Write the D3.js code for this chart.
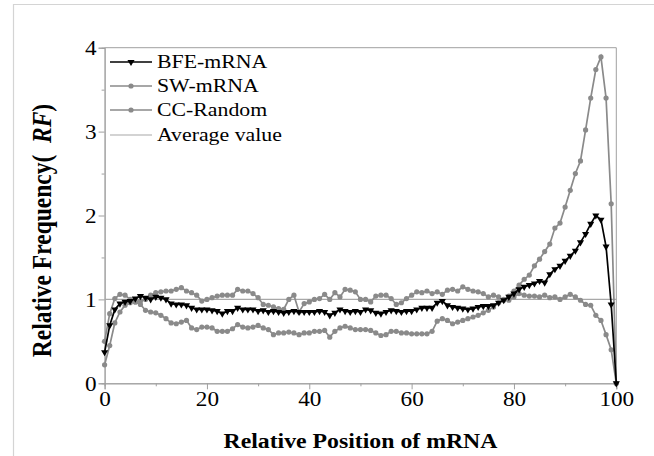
<!DOCTYPE html>
<html><head><meta charset="utf-8">
<script src="https://cdn.jsdelivr.net/npm/d3@7"></script>
<style>body{margin:0;background:#fff}svg{display:block}</style>
</head><body>
<svg id="c" width="654" height="456"></svg>
<script>
const positions = d3.range(0, 101);
const bfe = [0.37,0.69,0.88,0.95,0.97,0.98,1.01,1.04,1.02,1.0,
1.03,1.02,1.0,0.95,0.94,0.94,0.93,0.9,0.88,0.88,
0.88,0.87,0.86,0.83,0.86,0.86,0.9,0.88,0.88,0.88,
0.86,0.87,0.85,0.86,0.85,0.84,0.85,0.86,0.85,0.85,
0.85,0.85,0.86,0.85,0.81,0.84,0.88,0.86,0.85,0.86,
0.85,0.88,0.87,0.84,0.83,0.85,0.87,0.86,0.85,0.86,
0.86,0.88,0.9,0.9,0.9,0.96,0.98,0.93,0.91,0.9,
0.89,0.88,0.89,0.91,0.92,0.92,0.93,0.96,0.99,1.03,
1.07,1.12,1.15,1.17,1.19,1.22,1.2,1.3,1.36,1.4,
1.46,1.52,1.58,1.68,1.78,1.9,2.0,1.95,1.63,0.94,0];
const sw = [0.22,0.45,0.72,0.85,0.93,0.96,0.97,0.94,0.87,0.85,
0.84,0.81,0.77,0.72,0.71,0.73,0.75,0.66,0.64,0.67,
0.67,0.66,0.62,0.62,0.62,0.65,0.7,0.67,0.66,0.67,
0.69,0.66,0.64,0.58,0.6,0.6,0.61,0.6,0.58,0.6,
0.6,0.62,0.62,0.63,0.55,0.62,0.66,0.68,0.66,0.64,
0.64,0.64,0.63,0.6,0.57,0.58,0.62,0.62,0.6,0.6,
0.59,0.59,0.59,0.59,0.62,0.74,0.77,0.75,0.71,0.73,
0.75,0.77,0.79,0.81,0.84,0.87,0.91,0.96,1.0,1.04,
1.1,1.17,1.24,1.29,1.4,1.48,1.57,1.66,1.85,1.91,
2.1,2.3,2.5,2.65,3.02,3.4,3.74,3.89,3.4,2.14,0];
const cc = [0.5,0.83,1.01,1.06,1.05,1.0,0.97,0.98,1.0,1.05,
1.08,1.09,1.1,1.1,1.12,1.14,1.1,1.08,1.05,0.98,
1.0,1.02,1.04,1.05,1.05,1.05,1.12,1.1,1.1,1.07,
1.02,0.94,0.93,0.91,0.89,0.88,1.0,1.05,0.85,0.95,
0.97,1.0,1.01,1.06,1.0,1.08,1.03,1.12,1.11,1.09,
1.0,1.0,0.97,1.04,1.05,1.05,1.01,0.94,0.96,1.01,
1.05,1.09,1.08,1.1,1.07,1.09,1.06,1.11,1.12,1.1,
1.15,1.12,1.1,1.09,1.07,1.03,1.05,1.03,0.99,0.99,
1.03,1.07,1.05,1.04,1.04,1.03,1.05,1.02,1.03,1.0,
1.03,1.06,1.03,0.99,0.94,0.93,0.81,0.75,0.58,0.4,0];
const averageValue = 1;
const xTicks = [0,20,40,60,80,100];
const xMinor = [10,30,50,70,90];
const yTicks = [0,1,2,3,4];
const yMinor = [0.5,1.5,2.5,3.5];
const legendLabels = ["BFE-mRNA","SW-mRNA","CC-Random","Average value"];

const svg = d3.select("#c");
const W = 654, H = 456;
const K = 1.16; // horizontal stretch of the original picture's text
const m = {l:104.6, r:616.3, t:47.7, b:383.3};
const x = d3.scaleLinear().domain([0,100]).range([m.l, m.r]);
const y = d3.scaleLinear().domain([0,4]).range([m.b, m.t]);
const axisGray = "#a0a0a0";
const seriesGray = "#8a8a8a";
const font = "'Liberation Serif','Times New Roman',serif";

svg.append("path").attr("d", `M13.5,${H} V4.5 H${W}`).attr("fill","none").attr("stroke","#d4d4d4").attr("stroke-width",1.2);
svg.append("path").attr("d", `M${m.l},${m.t} H${m.r} V${m.b}`).attr("fill","none").attr("stroke",axisGray).attr("stroke-width",1);

const gx = svg.append("g").attr("transform",`translate(0,${m.b})`)
  .call(d3.axisBottom(x).tickValues(xTicks).tickSize(6).tickFormat(d3.format("d")));
const gxm = svg.append("g").attr("transform",`translate(0,${m.b})`)
  .call(d3.axisBottom(x).tickValues(xMinor).tickSize(3).tickFormat(""));
const gy = svg.append("g").attr("transform",`translate(${m.l},0)`)
  .call(d3.axisLeft(y).tickValues(yTicks).tickSize(6).tickFormat(d3.format("d")));
const gym = svg.append("g").attr("transform",`translate(${m.l},0)`)
  .call(d3.axisLeft(y).tickValues(yMinor).tickSize(3).tickFormat(""));
[gx,gxm,gy,gym].forEach(g=>{
  g.selectAll("path.domain").attr("stroke",axisGray);
  g.selectAll(".tick line").attr("stroke",axisGray);
  g.selectAll("text").attr("fill","#000").style("font-family",font).style("font-size","20px");
});
gx.selectAll("text").attr("x",0).attr("y",0).attr("dy",0).attr("transform",`translate(0,22.5) scale(${K},1)`);
gy.selectAll("text").attr("x",0).attr("y",0).attr("dy",0).attr("transform",`translate(-8,7) scale(${K},1)`);

svg.append("line").attr("x1",m.l).attr("x2",m.r).attr("y1",y(averageValue)).attr("y2",y(averageValue))
  .attr("stroke","#a8a8a8").attr("stroke-width",1.2);

const line = d3.line().x((d,i)=>x(positions[i])).y(d=>y(d));
const tri = d3.symbol().type(d3.symbolTriangle).size(22);

function drawSeries(vals, color, marker){
  const g = svg.append("g");
  g.append("path").datum(vals).attr("d",line).attr("fill","none").attr("stroke",color).attr("stroke-width",1.7);
  if(marker==="circle"){
    g.selectAll("circle").data(vals).join("circle")
      .attr("cx",(d,i)=>x(positions[i])).attr("cy",d=>y(d)).attr("r",2.6).attr("fill",color);
  } else {
    g.selectAll("path.m").data(vals).join("path").attr("class","m")
      .attr("d",tri).attr("transform",(d,i)=>`translate(${x(positions[i])},${y(d)}) rotate(180)`).attr("fill",color);
  }
}
drawSeries(cc, seriesGray, "circle");
drawSeries(sw, seriesGray, "circle");
drawSeries(bfe, "#000", "tri");

const lg = svg.append("g");
const rows = [62,86,110,135];
const lcolors = ["#000",seriesGray,seriesGray,"#a8a8a8"];
legendLabels.forEach((lab,i)=>{
  const yy = rows[i];
  lg.append("line").attr("x1",110).attr("x2",152).attr("y1",yy).attr("y2",yy)
    .attr("stroke",lcolors[i]).attr("stroke-width",i===3?1.2:1.7);
  if(i===0) lg.append("path").attr("d",tri).attr("transform",`translate(131,${yy}) rotate(180)`).attr("fill","#000");
  if(i===1||i===2) lg.append("circle").attr("cx",131).attr("cy",yy).attr("r",2.6).attr("fill",seriesGray);
  lg.append("text").attr("transform",`translate(157,${yy+6.3}) scale(${K},1)`).text(lab)
    .style("font-family",font).style("font-size","18.8px").attr("fill","#000");
});

svg.append("text").attr("transform",`translate(${(m.l+m.r)/2},448) scale(${K},1)`).attr("text-anchor","middle")
  .style("font-family",font).style("font-size","20.5px").style("font-weight","bold").text("Relative Position of mRNA");
const yt = svg.append("text").attr("transform",`translate(51,${(m.t+m.b)/2 + 15}) scale(${K},1) rotate(-90)`).attr("text-anchor","middle")
  .style("font-family",font).style("font-size","23.5px").style("font-weight","bold");
yt.append("tspan").text("Relative Frequency(\u00a0 ");
yt.append("tspan").style("font-style","italic").text("RF");
yt.append("tspan").text(")");
</script>
</body></html>
